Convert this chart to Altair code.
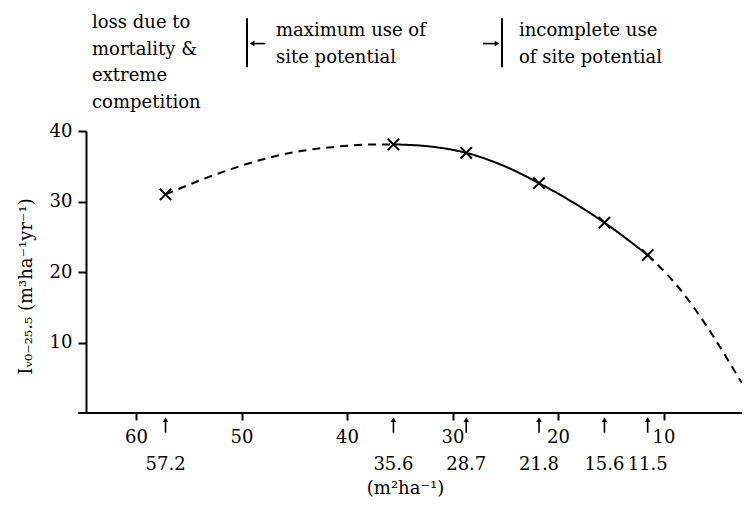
import altair as alt
import pandas as pd

# ---- data ----
basal_area = [57.2, 35.6, 28.7, 21.8, 15.6, 11.5]
increment = [31.0, 38.1, 36.9, 32.6, 27.0, 22.4]
labels = ["57.2", "35.6", "28.7", "21.8", "15.6", "11.5"]

# fitted curve (three parts)
left_x = [57.2, 52.7, 46.3, 40.0, 37.0, 35.6]
left_y = [31.0, 33.7, 36.6, 37.9, 38.1, 38.1]
mid_x = [35.6, 32.1, 28.7, 24.9, 21.8, 15.6, 11.5]
mid_y = [38.1, 37.8, 36.9, 34.9, 32.6, 27.0, 22.4]
right_x = [11.5, 8.4, 5.9, 3.4, 2.6]
right_y = [22.4, 17.5, 12.3, 6.3, 4.3]

x_ticks = [60, 50, 40, 30, 20, 10]
y_ticks = [10, 20, 30, 40]

ann_text = ["loss due to\nmortality &\nextreme\ncompetition",
            "maximum use of\nsite potential",
            "incomplete use\nof site potential"]
ann_x = [64.17, 46.73, 23.70]
ann_y = [54.57, 53.43, 53.43]

bar_x = [49.48, 25.31]
bar_y1 = [56.0, 56.0]
bar_y2 = [49.05, 49.05]
arrow_x1 = [47.77, 27.11]
arrow_x2 = [48.91, 25.97]
arrow_tip = [49.0, 25.78]
arrow_dir = ["triangle-left", "triangle-right"]
arrow_y = [52.4, 52.4]

FONT = "DejaVu Serif"
FS = 18

X_DOMAIN = [2.56, 64.74]
xscale = alt.Scale(domain=X_DOMAIN, reverse=True, nice=False, zero=False)
yscale = alt.Scale(domain=[0, 40], nice=False, zero=False)

xaxis = alt.Axis(values=x_ticks, domain=False, tickSize=7, tickWidth=2, tickColor="black",
                 labelPadding=8, labelFont=FONT, labelFontSize=FS, labelColor="black",
                 grid=False, title="(m²ha⁻¹)", titleFont=FONT, titleFontSize=FS,
                 titleFontWeight="normal", titleColor="black", titlePadding=33,
                 titleX=319, titleAlign="center",
                 labelOverlap=False, labelFlush=False)
yaxis = alt.Axis(values=y_ticks, domain=True, domainWidth=2, domainColor="black",
                 tickSize=8, tickWidth=2, tickColor="black", labelPadding=6,
                 labelFont=FONT, labelFontSize=FS, labelColor="black", grid=False,
                 title="Iᵥ₀₋₂₅.₅ (m³ha⁻¹yr⁻¹)", titleFont=FONT, titleFontSize=FS,
                 titleFontWeight="normal", titleColor="black",
                 titleX=-60, titleY=155, titleAngle=270, titleAlign="center",
                 titleBaseline="middle")


def X(field="x"):
    return alt.X(f"{field}:Q", scale=xscale, axis=xaxis)


def Y(field="y"):
    return alt.Y(f"{field}:Q", scale=yscale, axis=yaxis)


curve = pd.concat([
    pd.DataFrame({"x": left_x, "y": left_y, "part": "left", "style": "dashed"}),
    pd.DataFrame({"x": mid_x, "y": mid_y, "part": "mid", "style": "solid"}),
    pd.DataFrame({"x": right_x, "y": right_y, "part": "right", "style": "dashed"}),
])

lines = alt.Chart(curve).mark_line(color="black", strokeWidth=2, interpolate="monotone").encode(
    x=X(), y=Y(), detail="part:N",
    strokeDash=alt.StrokeDash("style:N", scale=alt.Scale(domain=["dashed", "solid"],
                                                          range=[[8, 6], [1, 0]]), legend=None),
)

pts = pd.DataFrame({"x": basal_area, "y": increment, "lab": labels})
markers = alt.Chart(pts).mark_point(shape="M-1,-1L1,1M1,-1L-1,1", size=130, filled=False,
                                    color="black", strokeWidth=2, opacity=1).encode(x=X(), y=Y())

pts2 = pts.assign(a1=-1.0, a2=-2.8, tip=-0.95, lbl=-7.4)
up_shaft = alt.Chart(pts2).mark_rule(color="black", strokeWidth=1.6).encode(
    x=X(), y=Y("a1"), y2="a2:Q")
up_head = alt.Chart(pts2).mark_point(shape="triangle-up", size=30, filled=True, color="black",
                                     opacity=1).encode(x=X(), y=Y("tip"))
val_labels = alt.Chart(pts2).mark_text(font=FONT, fontSize=FS, color="black",
                                       baseline="middle", align="center").encode(
    x=X(), y=Y("lbl"), text="lab:N")

axis_line = alt.Chart(pd.DataFrame({"x": [65.5], "x2": [X_DOMAIN[0]], "y": [0]})).mark_rule(
    color="black", strokeWidth=2).encode(x=X(), x2="x2:Q", y=Y())

ann = pd.DataFrame({"x": ann_x, "y": ann_y, "t": ann_text})
ann_layer = alt.Chart(ann).mark_text(font=FONT, fontSize=FS, color="black", align="left",
                                     baseline="alphabetic", lineBreak="\n",
                                     lineHeight=26.5).encode(x=X(), y=Y(), text="t:N")

bars = pd.DataFrame({"x": bar_x, "y": bar_y1, "y2": bar_y2})
bar_layer = alt.Chart(bars).mark_rule(color="black", strokeWidth=2).encode(
    x=X(), y=Y(), y2="y2:Q")

arr = pd.DataFrame({"x": arrow_x1, "x2": arrow_x2, "tip": arrow_tip, "y": arrow_y,
                    "dir": arrow_dir})
arr_shaft = alt.Chart(arr).mark_rule(color="black", strokeWidth=1.6).encode(
    x=X(), x2="x2:Q", y=Y())
arr_head = alt.Chart(arr).mark_point(filled=True, size=30, color="black", opacity=1).encode(
    x=X("tip"), y=Y(),
    shape=alt.Shape("dir:N", scale=alt.Scale(domain=arrow_dir, range=arrow_dir), legend=None))

chart = alt.layer(
    axis_line, lines, markers, up_shaft, up_head, val_labels,
    ann_layer, bar_layer, arr_shaft, arr_head,
).properties(
    width=656, height=282,
    autosize=alt.AutoSizeParams(type="none"),
    padding={"left": 78, "top": 123, "right": 0, "bottom": 88},
    background="white",
).configure_view(stroke=None)

chart.save("out.html", embed_options={"renderer": "svg", "actions": False})
